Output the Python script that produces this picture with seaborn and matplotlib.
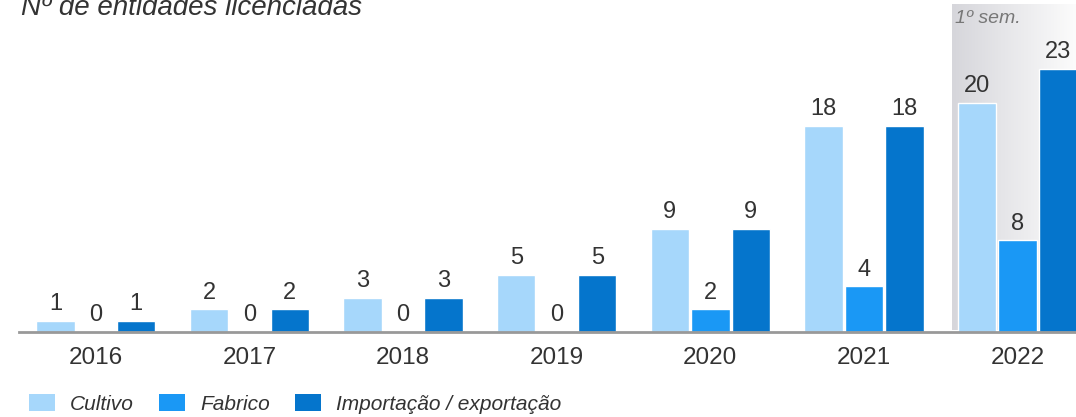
import numpy as np
import pandas as pd
import matplotlib
matplotlib.use("Agg")
import matplotlib.pyplot as plt
from matplotlib.patches import Patch
from matplotlib.colors import LinearSegmentedColormap
import seaborn as sns

anos = ["2016", "2017", "2018", "2019", "2020", "2021", "2022"]
cultivo = [1, 2, 3, 5, 9, 18, 20]
fabrico = [0, 0, 0, 0, 2, 4, 8]
importacao = [1, 2, 3, 5, 9, 18, 23]
series = ["Cultivo", "Fabrico", "Importação / exportação"]
cores = ["#A6D7FB", "#1A98F5", "#0575CC"]

titulo = "Nº de entidades licenciadas"
nota = "1º sem."

df = pd.DataFrame({
    "ano": anos * 3,
    "valor": cultivo + fabrico + importacao,
    "tipo": [series[0]] * 7 + [series[1]] * 7 + [series[2]] * 7,
})

sns.set_theme(style="white")
plt.rcParams["font.family"] = ["Liberation Sans", "DejaVu Sans"]

fig = plt.figure(figsize=(10.76, 4.17), dpi=100)
ax = fig.add_axes([19 / 1076, 85 / 417, 1 - 19 / 1076, 332 / 417])

# shaded band behind the partial-year group
grad = np.linspace(0, 1, 256).reshape(1, -1)
cmap = LinearSegmentedColormap.from_list("band", ["#d6d6db", "#fcfcfc"])
ax.imshow(grad, cmap=cmap, aspect="auto", extent=(5.57, 6.38, 0.15, 28.55),
          zorder=0, interpolation="bicubic")

sns.barplot(data=df, x="ano", y="valor", hue="tipo", hue_order=series,
            palette=cores, width=0.79, gap=0.05, edgecolor="white",
            linewidth=1.0, legend=False, ax=ax, zorder=2, saturation=1)

ax.set_xlim(-0.5, 6.38)
ax.set_ylim(0, 29.0)

for cont in ax.containers:
    ax.bar_label(cont, labels=[f"{int(b.get_height())}" for b in cont],
                 padding=4, fontsize=17, color="#333333")

ax.set_xlabel("")
ax.set_ylabel("")
ax.set_yticks([])
ax.tick_params(axis="x", length=0, labelsize=17.5, labelcolor="#333333", pad=11)
for s in ["top", "right", "left"]:
    ax.spines[s].set_visible(False)
ax.spines["bottom"].set_color("#999999")
ax.spines["bottom"].set_linewidth(2)
ax.set_facecolor("none")

fig.text(21 / 1076, 1 - 15 / 417, titulo, fontsize=20, style="italic",
         color="#333333", va="baseline", ha="left")
ax.text(5.595, 27.4, nota, fontsize=14, style="italic", color="#777777",
        va="center", ha="left", zorder=3)

handles = [Patch(facecolor=c, edgecolor="none") for c in cores]
fig.legend(handles, series, loc="center left", bbox_to_anchor=(29 / 1076, 1 - 404 / 417),
           ncol=3, frameon=False, handlelength=1.25, handleheight=0.86,
           handletextpad=0.72, columnspacing=1.2, borderpad=0, borderaxespad=0,
           prop={"size": 15, "style": "italic"}, labelcolor="#333333")

fig.savefig("out.png", dpi=100)
